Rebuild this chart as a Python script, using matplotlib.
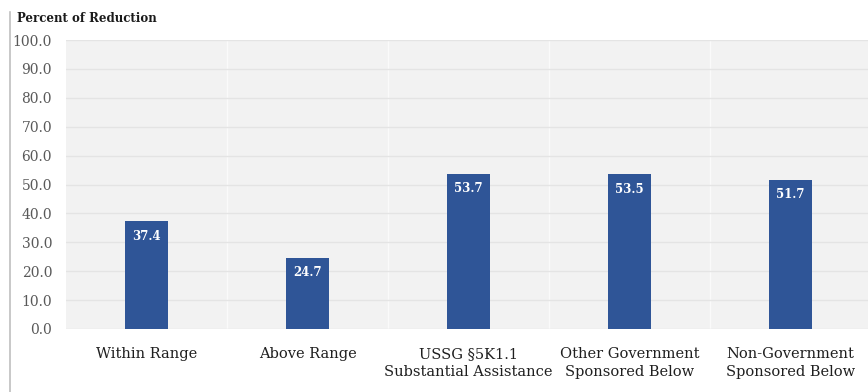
import matplotlib.pyplot as plt
from matplotlib.lines import Line2D
import numpy as np

categories = ['Within Range', 'Above Range', 'USSG \u00a75K1.1\nSubstantial Assistance',
              'Other Government\nSponsored Below', 'Non-Government\nSponsored Below']
reduction = [37.4, 24.7, 53.7, 53.5, 51.7]
yticks = [0, 10, 20, 30, 40, 50, 60, 70, 80, 90, 100]

plt.rcParams['font.family'] = ['DejaVu Serif']

fig = plt.figure(figsize=(8.68, 3.92), dpi=100)
ax = fig.add_axes([66/868, 63/392, 802/868, 289/392])
ax.set_facecolor('#f2f2f2')

x = np.arange(len(categories))
bars = ax.bar(x, reduction, width=0.27, color='#2f5597', zorder=3)
for b, v in zip(bars, reduction):
    ax.text(b.get_x() + b.get_width()/2, v - 3.0, '%.1f' % v, ha='center', va='top',
            color='white', fontsize=8.5, fontweight='bold', zorder=4)

ax.set_xlim(-0.5, 4.48)
ax.set_ylim(0, 100)
ax.set_yticks(yticks)
ax.set_yticklabels(['%.1f' % t for t in yticks], color='#595959', fontsize=10)
ax.set_xticks(x)
ax.set_xticklabels(categories, color='#1f1f1f', fontsize=10.5, linespacing=1.4)
ax.tick_params(length=0)
ax.tick_params(axis='y', pad=10)
ax.tick_params(axis='x', pad=13)

# horizontal grid plus faint category separators
ax.grid(axis='y', color='#e4e4e4', linewidth=1.0, zorder=1)
for sep in x[:-1] + 0.5:
    ax.axvline(sep, color='#fafafa', linewidth=1.0, zorder=1)
for s in ax.spines.values():
    s.set_visible(False)

fig.text(17/868, 1 - 19/392, 'Percent of Reduction', fontsize=8.5, fontweight='bold',
         color='#1a1a1a', va='center', ha='left')
fig.add_artist(Line2D([10/868, 10/868], [0, 1 - 12/392], transform=fig.transFigure,
                      color='#bfbfbf', linewidth=1.2))

fig.savefig('out.png', dpi=100)
